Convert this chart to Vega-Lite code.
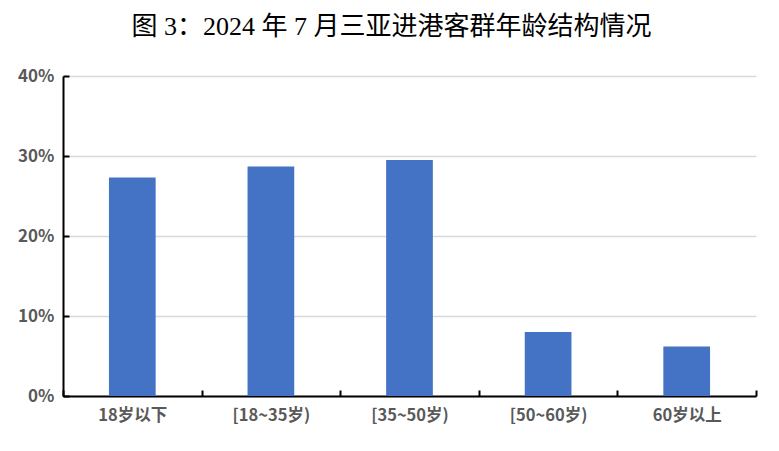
{
  "$schema": "https://vega.github.io/schema/vega-lite/v6.json",
  "width": 693,
  "height": 320,
  "autosize": "none",
  "padding": {"left": 63, "top": 76, "right": 23, "bottom": 55},
  "background": "white",
  "title": {
    "text": "图 3：2024 年 7 月三亚进港客群年龄结构情况",
    "font": "Liberation Serif, Noto Sans CJK SC",
    "fontSize": 26,
    "fontWeight": "normal",
    "color": "#000000",
    "anchor": "middle",
    "dx": -18,
    "offset": 27
  },
  "data": {
    "values": [
      {"group": "18岁以下", "share": 0.273},
      {"group": "[18~35岁)", "share": 0.287},
      {"group": "[35~50岁)", "share": 0.295},
      {"group": "[50~60岁)", "share": 0.080},
      {"group": "60岁以上", "share": 0.062}
    ]
  },
  "mark": {"type": "bar", "color": "#4472C4", "width": {"band": 0.337}},
  "encoding": {
    "x": {
      "field": "group",
      "type": "nominal",
      "sort": null,
      "scale": {"paddingInner": 0, "paddingOuter": 0},
      "axis": {
        "title": null,
        "labelAngle": 0,
        "labelFont": "Noto Sans CJK SC",
        "labelFontSize": 16.5,
        "labelFontWeight": "bold",
        "labelColor": "#595959",
        "labelPadding": 17,
        "domainColor": "#000000",
        "domainWidth": 2,
        "tickColor": "#000000",
        "tickWidth": 2,
        "tickSize": -6,
        "tickBand": "extent",
        "grid": false
      }
    },
    "y": {
      "field": "share",
      "type": "quantitative",
      "scale": {"domain": [0, 0.4], "nice": false},
      "axis": {
        "title": null,
        "values": [0, 0.1, 0.2, 0.3, 0.4],
        "format": ".0%",
        "labelFont": "Noto Sans CJK SC",
        "labelFontSize": 17,
        "labelFontWeight": "bold",
        "labelColor": "#595959",
        "labelPadding": 15,
        "domainColor": "#000000",
        "domainWidth": 2,
        "tickColor": "#000000",
        "tickWidth": 2,
        "tickSize": -6,
        "grid": true,
        "gridColor": "#d9d9d9",
        "gridWidth": 1.5
      }
    }
  },
  "config": {"view": {"stroke": null}}
}
